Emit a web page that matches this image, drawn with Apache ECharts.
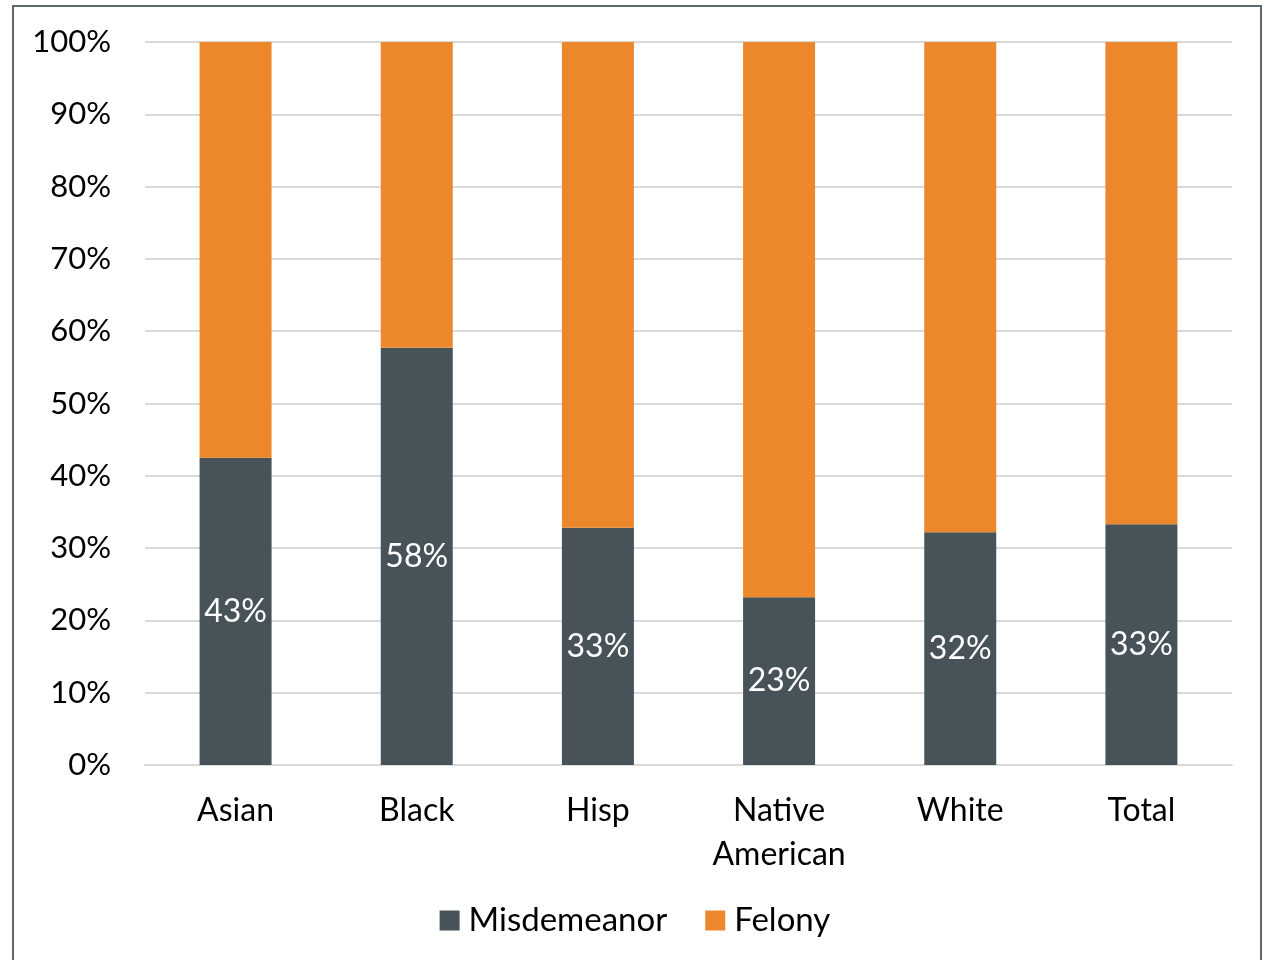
<!DOCTYPE html>
<html>
<head>
<meta charset="utf-8">
<script src="https://cdn.jsdelivr.net/npm/echarts@6/dist/echarts.min.js"></script>
<style>
  html, body { margin: 0; padding: 0; background: #fff; }
  #chart { width: 1270px; height: 960px; }
</style>
</head>
<body>
<div id="chart"></div>
<script>
// Case type share by group (percent of cases)
const categories = ['Asian', 'Black', 'Hisp', 'Native\nAmerican', 'White', 'Total'];
const misdemeanor = [42.5, 57.7, 32.8, 23.2, 32.2, 33.3];
const felony = misdemeanor.map(v => 100 - v);
const yTicks = [0, 10, 20, 30, 40, 50, 60, 70, 80, 90, 100];

const FONT = 'Lato, "Open Sans", sans-serif';
const chart = echarts.init(document.getElementById('chart'));

chart.setOption({
  animation: false,
  backgroundColor: '#ffffff',
  textStyle: { fontFamily: FONT },
  graphic: [{
    type: 'rect',
    shape: { x: 13, y: 6, width: 1248, height: 1000 },
    style: { fill: 'none', stroke: '#5d676d', lineWidth: 2 },
    silent: true
  }],
  grid: { left: 145, right: 38, top: 42, bottom: 195, containLabel: false },
  legend: {
    bottom: 18,
    left: 'center',
    itemWidth: 20,
    itemHeight: 20,
    itemGap: 38,
    icon: 'rect',
    textStyle: { fontSize: 33, color: '#000', fontFamily: FONT, padding: [0, 0, 0, 4] },
    data: ['Misdemeanor', 'Felony']
  },
  xAxis: {
    type: 'category',
    data: categories,
    axisLine: { lineStyle: { color: '#d9d9d9', width: 2 } },
    axisTick: { show: false },
    axisLabel: { color: '#000', fontSize: 32, margin: 24, lineHeight: 44, fontFamily: FONT }
  },
  yAxis: {
    type: 'value',
    min: yTicks[0],
    max: yTicks[yTicks.length - 1],
    interval: 10,
    axisLine: { show: false },
    axisTick: { show: false },
    axisLabel: { color: '#000', fontSize: 31, margin: 34, formatter: v => v + '%', fontFamily: FONT },
    splitLine: { lineStyle: { color: '#d9d9d9', width: 2 } }
  },
  series: [
    {
      name: 'Misdemeanor',
      type: 'bar',
      stack: 'total',
      barWidth: 72,
      data: misdemeanor,
      itemStyle: { color: '#475359' },
      label: {
        show: true,
        position: 'inside',
        color: '#fff',
        fontSize: 32,
        fontFamily: FONT,
        formatter: p => Math.round(p.value) + '%'
      }
    },
    {
      name: 'Felony',
      type: 'bar',
      stack: 'total',
      barWidth: 72,
      data: felony,
      itemStyle: { color: '#ed872b' }
    }
  ]
});
</script>
</body>
</html>
